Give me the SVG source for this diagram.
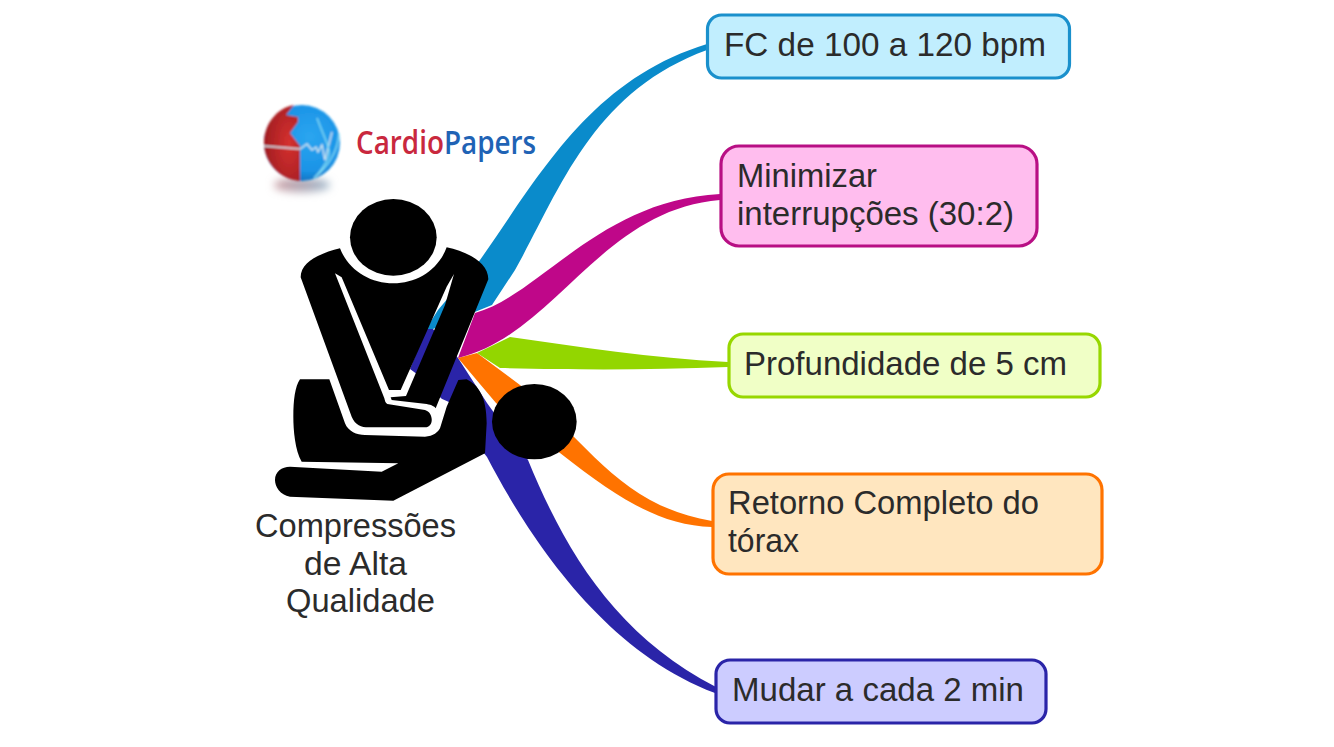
<svg xmlns="http://www.w3.org/2000/svg" width="1334" height="747" viewBox="0 0 1334 747">
<defs>
<radialGradient id="globeBlue" cx="0.6" cy="0.42" r="0.62"><stop offset="0" stop-color="#2ba6f0"/><stop offset="0.72" stop-color="#1b93e6"/><stop offset="1" stop-color="#0f6cba"/></radialGradient>
<radialGradient id="globeRed" cx="0.7" cy="0.5" r="0.8"><stop offset="0" stop-color="#d5312f"/><stop offset="1" stop-color="#98191f"/></radialGradient>
<linearGradient id="shadow" x1="0" x2="1" y1="0" y2="0"><stop offset="0" stop-color="#c89aa0"/><stop offset="1" stop-color="#9ab4c8"/></linearGradient>
<filter id="soft" x="-10%" y="-10%" width="120%" height="120%"><feGaussianBlur stdDeviation="0.9"/></filter>
<filter id="softer" x="-30%" y="-100%" width="160%" height="300%"><feGaussianBlur stdDeviation="4"/></filter>
</defs>
<style>
text{font-family:"Liberation Sans",Arial,sans-serif;font-size:33px;fill:#2b2b2b}
.brand{font-family:"Open Sans",sans-serif;font-size:32px;font-weight:600}
.box{stroke-width:3.2}
</style>
<rect width="1334" height="747" fill="#fff"/>
<g id="connectors">
<path id="link-fc" fill="#0a8bcb" d="M426,329L438,310L480,260C540,175 590,80 707,44L707,50C592,92 560,190 515,270L492,305L433,329Z"/>
<path id="link-mudar" fill="#2a24a8" d="M426,329L433,329L458,358L487,403L528,460C565,550 615,635 716,687L715,693C600,650 525,530 487,457L440,397L425,380L410,369Z"/>
<path id="link-ret" fill="#ff7300" d="M458,358L477,353L520,385C590,445 620,505 712,521L712,527C660,525 620,500 560,453L496,403Z"/>
<path id="link-prof" fill="#93d600" d="M477,353L510,337C580,347 650,358 728,362L728,367C650,370 580,370 500,368Z"/>
<path id="link-min" fill="#bf0789" d="M458,358L475,313C540,295 600,200 720,194L720,200C600,210 555,335 458,358Z"/>
</g>
<g id="logo">
<ellipse cx="302" cy="185" rx="28" ry="7" fill="url(#shadow)" filter="url(#softer)"/>
<g filter="url(#soft)">
<circle cx="302" cy="143" r="38" fill="url(#globeBlue)"/>
<path fill="url(#globeRed)" d="M294,105C276,108 264,125 264,143C264,162 280,180 300,181L300,146L290,133L298,122L298,117L286,115Z"/>
<path d="M264,146L300,149L307,144L312,150L316,147L318,152L322,145L325,160L332,132" fill="none" stroke="#d2e8f2" stroke-width="1.4"/>
<path d="M317,118C325,140 332,150 328,158C325,165 320,172 314,178M339,133C338,150 330,165 314,178" fill="none" stroke="#7fdcf5" stroke-width="1.4"/>
</g>
<text class="brand" transform="translate(356 154) scale(.87 1)"><tspan style="fill:#c9283e">Cardio</tspan><tspan style="fill:#1f63b5">Papers</tspan></text>
</g>
<g id="central">
<g transform="translate(270 190) scale(.33333)">
<path fill="#fff" d="M505,622L545,640L530,700L485,705Z"/>
<path fill="#000" d="M210,175C150,190 92,215 92,262L245,680C255,705 275,712 295,712L465,712C492,712 492,668 465,660L352,642C346,640 345,632 343,625L195,250L215,262L357,600L392,600L530,290L552,252L525,345L408,618L362,622L365,630L470,642C485,645 495,650 497,655L655,268C655,215 590,185 530,172C505,240 440,280 370,280C300,280 235,240 210,175Z"/>
<path fill="#000" d="M90,568L178,568L225,700C235,725 260,735 285,735L465,740C490,740 505,725 510,715L530,650L565,570L590,568C625,585 650,620 650,700L645,790L370,932L60,920C30,915 15,890 15,870C15,845 35,830 60,830L335,845L385,820L95,815C75,780 70,720 70,680C70,630 75,590 90,568Z"/>
<ellipse cx="370" cy="142" rx="130" ry="115" fill="#000"/>
<ellipse cx="793" cy="695" rx="127" ry="113" fill="#000"/>
</g>
<text x="255" y="537" textLength="201" lengthAdjust="spacingAndGlyphs">Compressões</text>
<text x="304" y="575" textLength="103" lengthAdjust="spacingAndGlyphs">de Alta</text>
<text x="286" y="612" textLength="149" lengthAdjust="spacingAndGlyphs">Qualidade</text>
</g>
<g id="node-fc">
<rect class="box" x="707.5" y="15" width="362" height="63" rx="14" fill="#c1eefe" stroke="#1a90cc"/>
<text x="724" y="56" textLength="322" lengthAdjust="spacingAndGlyphs">FC de 100 a 120 bpm</text>
</g>
<g id="node-min">
<rect class="box" x="721" y="146" width="316" height="100" rx="18" fill="#ffbdee" stroke="#b80f84"/>
<text x="737" y="187" textLength="140" lengthAdjust="spacingAndGlyphs">Minimizar</text>
<text x="737" y="225" textLength="277" lengthAdjust="spacingAndGlyphs">interrupções (30:2)</text>
</g>
<g id="node-prof">
<rect class="box" x="729" y="334" width="371" height="63" rx="14" fill="#f0ffc6" stroke="#97d700"/>
<text x="744" y="375" textLength="323" lengthAdjust="spacingAndGlyphs">Profundidade de 5 cm</text>
</g>
<g id="node-ret">
<rect class="box" x="713" y="474" width="389" height="100" rx="16" fill="#ffe6bf" stroke="#ff7300"/>
<text x="728" y="514" textLength="311" lengthAdjust="spacingAndGlyphs">Retorno Completo do</text>
<text x="728" y="552" textLength="71" lengthAdjust="spacingAndGlyphs">tórax</text>
</g>
<g id="node-mudar">
<rect class="box" x="716" y="660" width="330" height="63" rx="14" fill="#ccccff" stroke="#2a24a8"/>
<text x="732" y="701" textLength="292" lengthAdjust="spacingAndGlyphs">Mudar a cada 2 min</text>
</g>
</svg>
